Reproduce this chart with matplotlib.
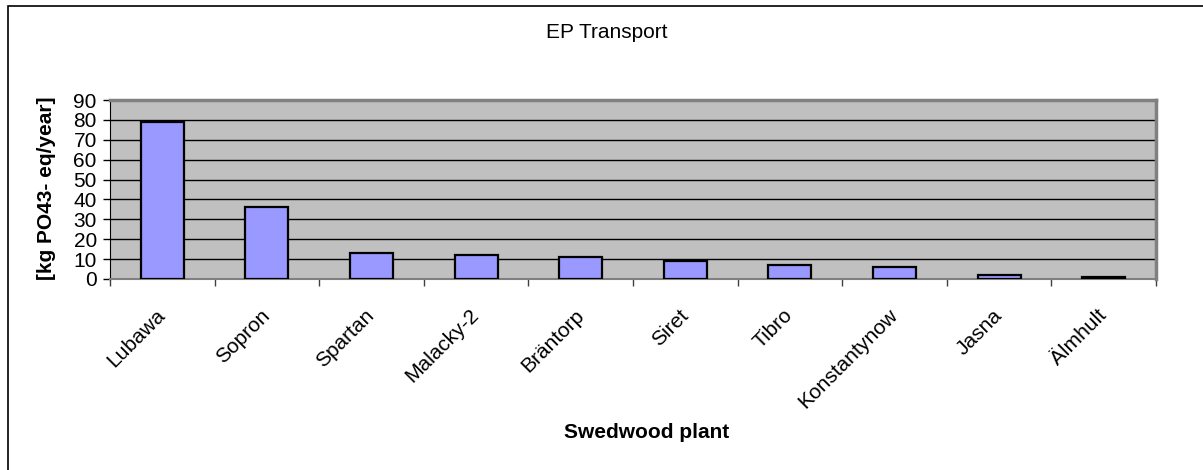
import matplotlib
matplotlib.use("Agg")
import matplotlib.pyplot as plt
from matplotlib.patches import Rectangle
from matplotlib.transforms import ScaledTranslation
import numpy as np

plants = ["Lubawa", "Sopron", "Spartan", "Malacky-2", "Bräntorp", "Siret",
          "Tibro", "Konstantynow", "Jasna", "Älmhult"]
ep_values = [79, 36, 13, 12, 11, 9, 7, 6, 2, 1]
y_ticks = [0, 10, 20, 30, 40, 50, 60, 70, 80, 90]

plt.rcParams["font.family"] = ["Liberation Sans", "DejaVu Sans"]

W, H = 1203, 470
DPI = 100
fig = plt.figure(figsize=(W / DPI, H / DPI), dpi=DPI)
ax = fig.add_axes([110 / W, 1 - 279 / H, (1156 - 110) / W, (279 - 100) / H])

x = np.arange(len(plants))
ax.bar(x, ep_values, width=0.41, color="#9999FF", edgecolor="black",
       linewidth=1.6, zorder=3)

ax.set_facecolor("#C0C0C0")
ax.set_xlim(-0.5, len(plants) - 0.5)
ax.set_ylim(0, 90)
ax.set_yticks(y_ticks)
ax.yaxis.grid(True, color="black", linewidth=1, zorder=1)
ax.set_axisbelow(True)

# tick marks sit on the category boundaries, labels on the centres
ax.set_xticks(np.arange(-0.5, len(plants) + 0.5, 1), minor=False)
ax.set_xticklabels([])
ax.set_xticks(x, minor=True)
labels = ax.set_xticklabels(plants, minor=True, rotation=45, ha="right",
                            va="center", rotation_mode="anchor", fontsize=15)
for i, lab in enumerate(labels):
    dx = (-10.5 + 2.8 * i) / DPI
    lab.set_transform(lab.get_transform()
                      + ScaledTranslation(dx, 0, fig.dpi_scale_trans))
ax.tick_params(axis="x", which="minor", length=0, pad=24)
ax.tick_params(axis="x", which="major", length=5, width=1, color="#404040",
               direction="out")
ax.tick_params(axis="y", length=5, width=1, labelsize=15, pad=4.5)

for side in ("top", "right"):
    ax.spines[side].set_color("#808080")
    ax.spines[side].set_linewidth(2.5)
ax.spines["left"].set_color("black")
ax.spines["bottom"].set_color("#808080")
ax.spines["bottom"].set_linewidth(1.5)

fig.text(47 / W, 1 - 188 / H, "[kg PO43- eq/year]", fontsize=15,
         fontweight="bold", rotation=90, ha="center", va="center")
fig.text(647 / W, 1 - 433 / H, "Swedwood plant", fontsize=15,
         fontweight="bold", ha="center", va="center")
fig.text(607 / W, 1 - 32 / H, "EP Transport", fontsize=15,
         ha="center", va="center")

# outer chart frame
fig.patches.append(Rectangle((8 / W, -0.05), 1.1, 1 - 6 / H + 0.05,
                             transform=fig.transFigure, fill=False,
                             edgecolor="black", linewidth=1.2))

fig.savefig("out.png", dpi=DPI)
